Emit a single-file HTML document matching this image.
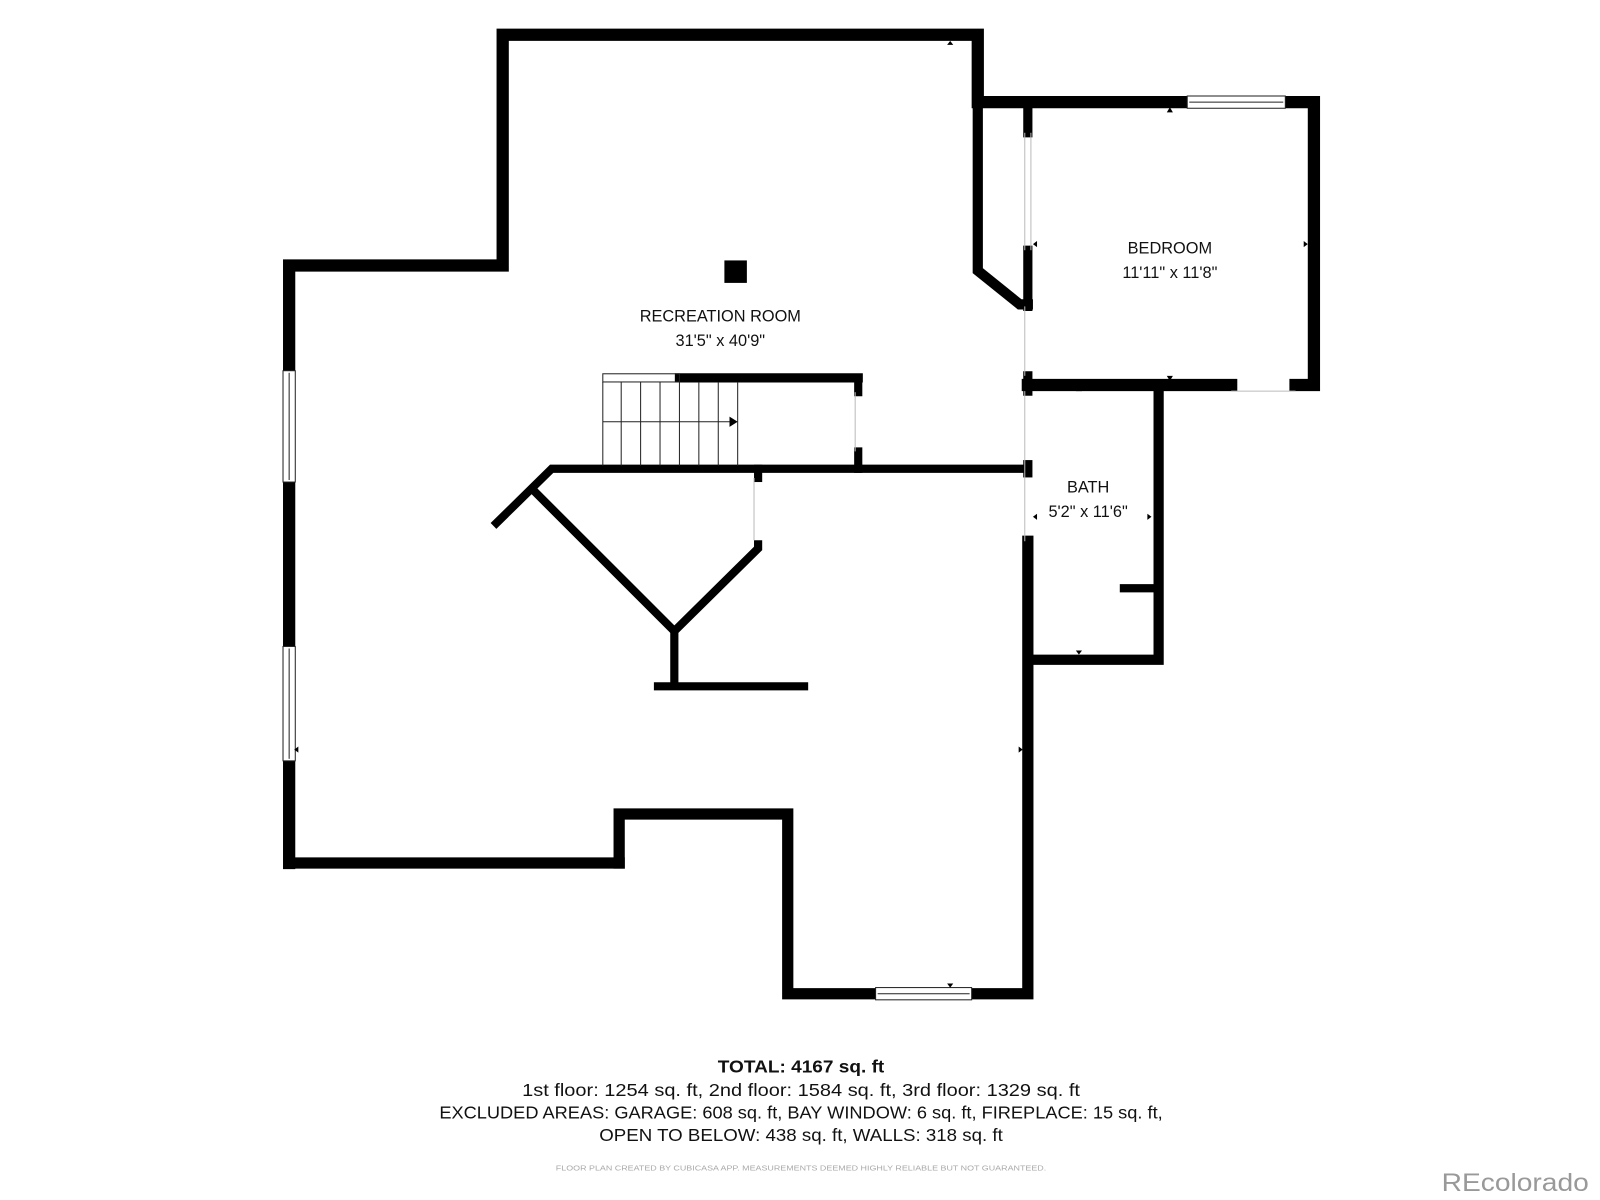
<!DOCTYPE html>
<html><head><meta charset="utf-8"><style>
html,body{margin:0;padding:0;background:#fff;width:1600px;height:1200px;overflow:hidden}
svg{display:block}
text{font-family:"Liberation Sans",sans-serif;fill:#111}
</style></head><body>
<svg width="1600" height="1200" viewBox="0 0 1566 1175" preserveAspectRatio="none" xmlns="http://www.w3.org/2000/svg">
<rect width="1566" height="1175" fill="#fff"/>
<g fill="none" stroke="#000" stroke-linecap="square" stroke-linejoin="miter">
  <polyline stroke-width="12" points="283,845 283,260 492,260 492,34 957,34 957,100 1286,100 1286,377 1268,377"/>
  <line stroke-width="12" x1="1205" y1="377" x2="1006" y2="377"/>
  <polyline stroke-width="11" points="606,845 283,845"/>
  <polyline stroke-width="11" points="606,845 606,797 771,797 771,973 1006,973 1006,530"/>
  <polyline stroke-width="10" points="1006,646 1134,646 1134,377"/>
  <line stroke-width="8" x1="1100" y1="576" x2="1132" y2="576"/>
  <polyline stroke-width="10" points="957,100 957,265 998,298 1006,298"/>
  <line stroke-width="9" x1="1006" y1="106" x2="1006" y2="130"/>
  <line stroke-width="9" x1="1006" y1="245" x2="1006" y2="300"/>
  <line stroke-width="9" x1="1006" y1="368" x2="1006" y2="383"/>
  <line stroke-width="9" x1="1006" y1="455" x2="1006" y2="463"/>
  <line stroke-width="9" x1="665" y1="370" x2="840" y2="370"/>
  <line stroke-width="8" x1="840" y1="370" x2="840" y2="384"/>
  <line stroke-width="8" x1="840" y1="442" x2="840" y2="459"/>
  <polyline stroke-width="8" points="483,515 540,459 1006,459" stroke-linecap="butt"/>
  <polyline stroke-width="8" points="520,478 660,618 742,537 742,529" stroke-linecap="butt"/>
  <line stroke-width="8" x1="742" y1="459" x2="742" y2="468"/>
  <line stroke-width="8" x1="660" y1="618" x2="660" y2="670" stroke-linecap="butt"/>
  <line stroke-width="8" x1="640" y1="672" x2="791" y2="672" stroke-linecap="butt"/>
</g>
<g stroke="#bbb" stroke-width="1" fill="none">
  <line x1="1003" y1="130" x2="1003" y2="245"/><line x1="1009" y1="130" x2="1009" y2="245"/>
  <line x1="1003" y1="300" x2="1003" y2="368"/>
  <line x1="1003" y1="383" x2="1003" y2="530"/>
  <line x1="738" y1="468" x2="738" y2="529"/>
  <line x1="837" y1="384" x2="837" y2="442"/>
  <line x1="1205" y1="383" x2="1268" y2="383"/>
</g>
<g fill="#fff" stroke="#222" stroke-width="1">
  <rect x="277" y="363" width="12" height="109"/><line x1="283" y1="365" x2="283" y2="470"/>
  <rect x="277" y="633" width="12" height="112"/><line x1="283" y1="635" x2="283" y2="743"/>
  <rect x="1162" y="94" width="96" height="12"/><line x1="1164" y1="100" x2="1256" y2="100"/>
  <rect x="857" y="967" width="94" height="12"/><line x1="859" y1="973" x2="949" y2="973"/>
</g>
<g stroke="#222" stroke-width="1" fill="none">
  <rect x="590" y="366" width="75" height="8"/>
  <line x1="590" y1="374" x2="590" y2="456"/><line x1="608" y1="374" x2="608" y2="456"/>
  <line x1="627" y1="374" x2="627" y2="456"/><line x1="646" y1="374" x2="646" y2="456"/>
  <line x1="665" y1="374" x2="665" y2="456"/><line x1="684" y1="374" x2="684" y2="456"/>
  <line x1="703" y1="374" x2="703" y2="456"/><line x1="722" y1="374" x2="722" y2="456"/>
  <line x1="590" y1="413" x2="716" y2="413"/>
</g>
<polygon points="714,408 722,413 714,418" fill="#000"/>
<rect x="709" y="255" width="22" height="22" fill="#000"/>
<g fill="#000">
  <polygon points="927,44 933,44 930,40"/>
  <polygon points="1142,110 1148,110 1145,105"/>
  <polygon points="1142,368 1148,368 1145,373"/>
  <polygon points="1053,383 1059,383 1056,378"/>
  <polygon points="1053,637 1059,637 1056,641"/>
  <polygon points="1015,236 1015,242 1011,239"/>
  <polygon points="1276,236 1276,242 1280,239"/>
  <polygon points="1123,503 1123,509 1127,506"/>
  <polygon points="1015,503 1015,509 1011,506"/>
  <polygon points="292,731 292,737 288,734"/>
  <polygon points="997,731 997,737 1001,734"/>
  <polygon points="927,963 933,963 930,967"/>
</g>
<g font-size="16" text-anchor="middle">
  <text x="705" y="315">RECREATION ROOM</text>
  <text x="705" y="339">31'5" x 40'9"</text>
  <text x="1145" y="248">BEDROOM</text>
  <text x="1145" y="272">11'11" x 11'8"</text>
  <text x="1065" y="482">BATH</text>
  <text x="1065" y="506">5'2" x 11'6"</text>
</g>
<g font-size="17" text-anchor="middle">
  <text x="784" y="1050" font-weight="bold" textLength="163" lengthAdjust="spacingAndGlyphs">TOTAL: 4167 sq. ft</text>
  <text x="784" y="1073" textLength="546" lengthAdjust="spacingAndGlyphs">1st floor: 1254 sq. ft, 2nd floor: 1584 sq. ft, 3rd floor: 1329 sq. ft</text>
  <text x="784" y="1095" textLength="708" lengthAdjust="spacingAndGlyphs">EXCLUDED AREAS: GARAGE: 608 sq. ft, BAY WINDOW: 6 sq. ft, FIREPLACE: 15 sq. ft,</text>
  <text x="784" y="1117" textLength="395" lengthAdjust="spacingAndGlyphs">OPEN TO BELOW: 438 sq. ft, WALLS: 318 sq. ft</text>
  <text x="784" y="1146" font-size="7.5" style="fill:#aaa" textLength="480" lengthAdjust="spacingAndGlyphs">FLOOR PLAN CREATED BY CUBICASA APP. MEASUREMENTS DEEMED HIGHLY RELIABLE BUT NOT GUARANTEED.</text>
</g>
<text x="1555" y="1166" font-size="24" text-anchor="end" style="fill:#999" textLength="144" lengthAdjust="spacingAndGlyphs">REcolorado</text>
</svg>
</body></html>
